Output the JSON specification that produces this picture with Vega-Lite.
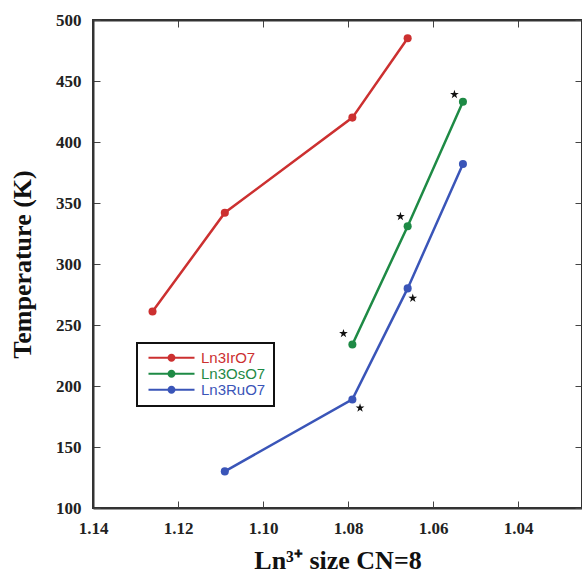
{
  "$schema": "https://vega.github.io/schema/vega-lite/v6.json",
  "width": 489,
  "height": 488,
  "autosize": "none",
  "padding": {"left": 93, "top": 20, "right": 0, "bottom": 69},
  "background": "white",
  "datasets": {
    "series": [
      {"compound": "Ln3IrO7", "size": 1.126, "T": 261},
      {"compound": "Ln3IrO7", "size": 1.109, "T": 342},
      {"compound": "Ln3IrO7", "size": 1.079, "T": 420},
      {"compound": "Ln3IrO7", "size": 1.066, "T": 485},
      {"compound": "Ln3OsO7", "size": 1.079, "T": 234},
      {"compound": "Ln3OsO7", "size": 1.066, "T": 331},
      {"compound": "Ln3OsO7", "size": 1.053, "T": 433},
      {"compound": "Ln3RuO7", "size": 1.109, "T": 130},
      {"compound": "Ln3RuO7", "size": 1.079, "T": 189},
      {"compound": "Ln3RuO7", "size": 1.066, "T": 280},
      {"compound": "Ln3RuO7", "size": 1.053, "T": 382}
    ],
    "stars": [
      {"size": 1.055, "T": 439},
      {"size": 1.0677, "T": 339},
      {"size": 1.0648, "T": 272},
      {"size": 1.0811, "T": 243},
      {"size": 1.0772, "T": 182}
    ]
  },
  "config": {
    "view": {"stroke": "#333", "strokeWidth": 2},
    "axis": {
      "grid": false,
      "domainColor": "#333",
      "domainWidth": 2,
      "tickColor": "#444",
      "tickSize": -7,
      "tickWidth": 1,
      "labelFont": "Liberation Serif",
      "labelFontWeight": "bold",
      "labelFontSize": 17,
      "labelColor": "#222",
      "titleFont": "Liberation Serif",
      "titleFontWeight": "bold",
      "titleFontSize": 26,
      "titleColor": "#111"
    }
  },
  "layer": [
    {
      "data": {"name": "series"},
      "encoding": {
        "x": {
          "field": "size", "type": "quantitative",
          "scale": {"domain": [1.14, 1.025], "nice": false, "zero": false},
          "axis": {"values": [1.14, 1.12, 1.10, 1.08, 1.06, 1.04], "format": ".2f", "title": "Ln³⁺ size CN=8", "labelPadding": 19, "titlePadding": 11, "labelFlush": false}
        },
        "y": {
          "field": "T", "type": "quantitative",
          "scale": {"domain": [100, 500], "nice": false, "zero": false},
          "axis": {"values": [100, 150, 200, 250, 300, 350, 400, 450, 500], "format": "d", "title": "Temperature (K)", "labelPadding": 19, "titlePadding": 20}
        },
        "color": {
          "field": "compound", "type": "nominal",
          "scale": {"domain": ["Ln3IrO7", "Ln3OsO7", "Ln3RuO7"], "range": ["#cc3030", "#1e8a45", "#3a55b8"]},
          "legend": {
            "orient": "none", "legendX": 44, "legendY": 323,
            "title": null,
            "strokeColor": "#111",
            "fillColor": "white",
            "padding": 8,
            "rowPadding": 0,
            "clipHeight": 13.5,
            "symbolType": "M-4.6,-0.2H4.6V0.2H-4.6Z M0.8,0A0.8,0.8,0,1,1,-0.8,0A0.8,0.8,0,1,1,0.8,0Z",
            "symbolSize": 100,
            "symbolOffset": 19,
            "symbolStrokeWidth": 0,
            "labelFont": "Liberation Sans",
            "labelFontSize": 15,
            "labelOffset": 22,
            "encode": {
              "legend": {"update": {"strokeWidth": {"value": 2}}},
              "symbols": {"update": {"fill": {"scale": "color", "field": "value"}, "stroke": {"value": "transparent"}, "opacity": {"value": 1}}},
              "labels": {"update": {"fill": {"scale": "color", "field": "value"}}}
            }
          }
        }
      },
      "layer": [
        {"mark": {"type": "line", "strokeWidth": 2.5}},
        {"mark": {"type": "point", "filled": true, "size": 65, "opacity": 1}}
      ]
    },
    {
      "data": {"name": "stars"},
      "mark": {"type": "point", "filled": true, "color": "#111", "opacity": 1, "size": 85, "shape": "M0,-1L0.2245,-0.309L0.951,-0.309L0.363,0.118L0.588,0.809L0,0.382L-0.588,0.809L-0.363,0.118L-0.951,-0.309L-0.2245,-0.309Z"},
      "encoding": {
        "x": {"field": "size", "type": "quantitative", "axis": {"orient": "top", "labels": false, "title": null, "values": [1.14, 1.12, 1.10, 1.08, 1.06, 1.04]}},
        "y": {"field": "T", "type": "quantitative", "axis": {"orient": "right", "labels": false, "title": null, "values": [100, 150, 200, 250, 300, 350, 400, 450, 500]}}
      }
    }
  ],
  "resolve": {"axis": {"x": "independent", "y": "independent"}}
}
